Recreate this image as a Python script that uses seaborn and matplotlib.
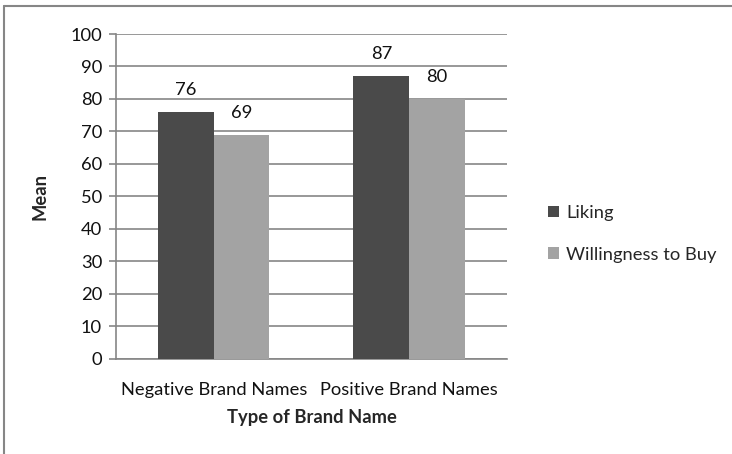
import pandas as pd
import matplotlib.pyplot as plt
import seaborn as sns
from matplotlib.lines import Line2D

# Chart data
categories = ["Negative Brand Names", "Positive Brand Names"]
series = ["Liking", "Willingness to Buy"]
liking = [76, 87]
willingness = [69, 80]
y_ticks = [0, 10, 20, 30, 40, 50, 60, 70, 80, 90, 100]

df = pd.DataFrame({
    "category": categories * 2,
    "measure": [series[0]] * 2 + [series[1]] * 2,
    "value": liking + willingness,
})

sns.set_style("white")
plt.rcParams["font.family"] = ["Lato", "DejaVu Sans"]
fs = 13.2

fig = plt.figure(figsize=(7.32, 4.54), dpi=100)
ax = fig.add_axes([0.1585, 0.2099, 0.534, 0.7152])

sns.barplot(data=df, x="category", y="value", hue="measure", hue_order=series,
            palette=["#4a4a4a", "#a3a3a3"], width=0.57, saturation=1,
            edgecolor="none", ax=ax, zorder=3)

ax.set_ylim(0, 100)
ax.set_xlim(-0.5, 1.5)
ax.set_yticks(y_ticks)
ax.yaxis.grid(True, color="#868686", linewidth=1.2, zorder=0)
ax.set_axisbelow(True)

for side in ["top", "right"]:
    ax.spines[side].set_visible(False)
for side in ["left", "bottom"]:
    ax.spines[side].set_color("#868686")
    ax.spines[side].set_linewidth(1.2)

ax.tick_params(axis="y", which="major", left=True, length=5, width=1.2,
               color="#868686", labelsize=fs, pad=5, labelcolor="#111111")
ax.tick_params(axis="x", bottom=False, labelsize=fs, pad=13, labelcolor="#111111")

for c in ax.containers:
    ax.bar_label(c, fontsize=fs, padding=10, color="#111111")

ax.set_xlabel("Type of Brand Name", fontsize=fs, fontweight="bold", labelpad=8)
ax.set_ylabel("Mean", fontsize=fs, fontweight="bold", labelpad=16)

handles, labels = ax.get_legend_handles_labels()
ax.legend(handles, labels, loc="center left", bbox_to_anchor=(0.726, 0.485),
          bbox_transform=fig.transFigure, frameon=False, fontsize=fs,
          handlelength=0.6, handleheight=0.6, handletextpad=0.4, labelspacing=1.4)

# outer chart frame (top and left edges only, the rest is cropped off)
fig.lines.append(Line2D([0.0055, 1.0], [0.9868, 0.9868], transform=fig.transFigure,
                        color="#868686", linewidth=1.5))
fig.lines.append(Line2D([0.0055, 0.0055], [0.0, 0.9868], transform=fig.transFigure,
                        color="#868686", linewidth=1.5))

plt.savefig("out.png", dpi=100)
